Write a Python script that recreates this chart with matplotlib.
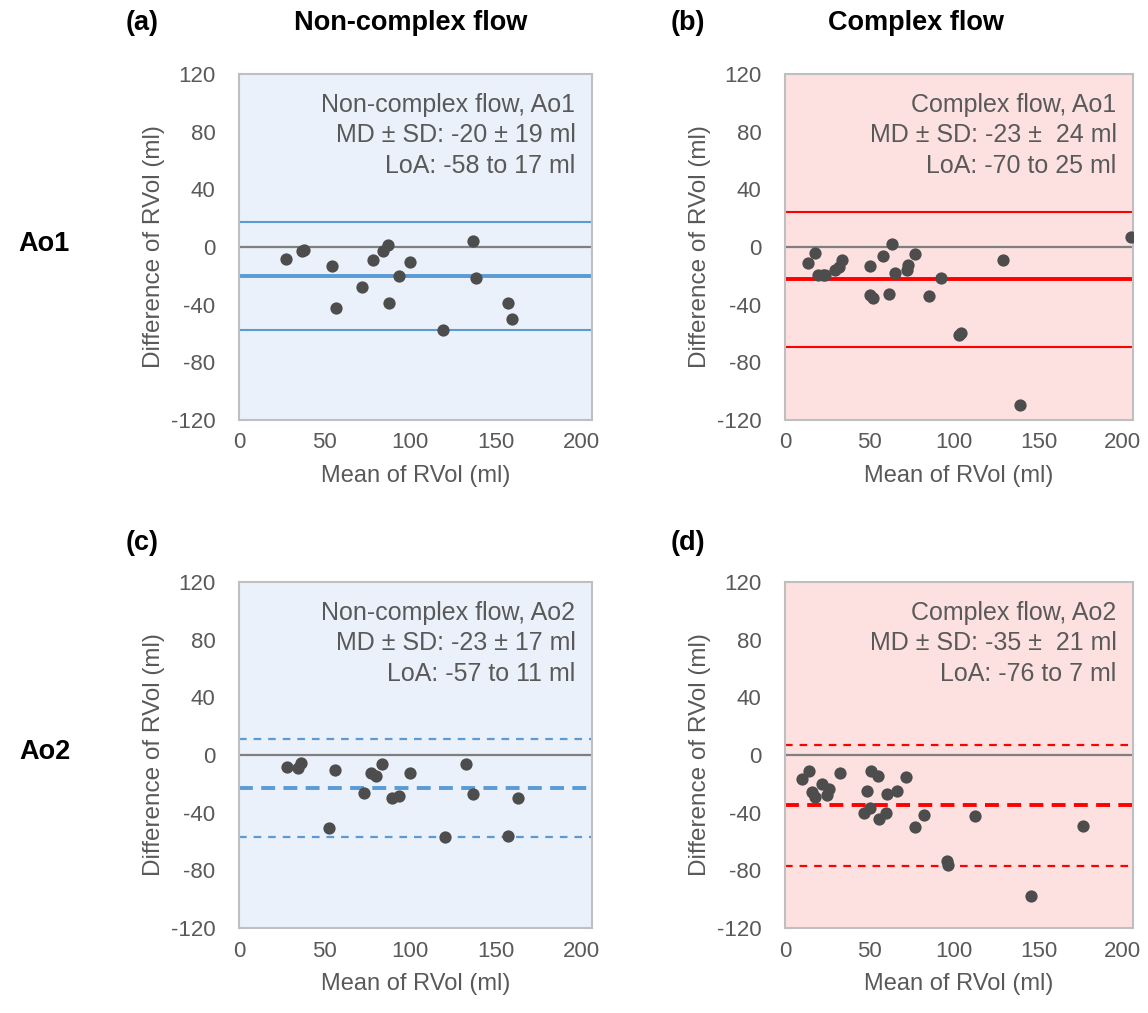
import matplotlib
matplotlib.use("Agg")
import matplotlib.pyplot as plt

plt.rcParams['font.family'] = ['Liberation Sans', 'DejaVu Sans']
plt.rcParams['lines.scale_dashes'] = False
plt.rcParams['axes.unicode_minus'] = False

# Panel (a): Non-complex flow, Ao1
a_x = [27.7, 37.0, 38.0, 54.5, 56.4, 71.7, 78.0, 84.0, 87.2, 87.4, 93.6, 100.0, 118.8, 136.6, 138.4, 157.0, 159.3]
a_y = [-8.3, -2.8, -2.0, -13.0, -42.6, -28.0, -9.0, -2.8, 1.4, -38.6, -20.0, -10.6, -57.6, 4.2, -21.8, -38.6, -50.2]
a_stats = [-20.3, 17.1, -57.6]  # mean, upper LoA, lower LoA

# Panel (b): Complex flow, Ao1
b_x = [13.6, 18.0, 19.4, 22.7, 23.7, 29.7, 31.7, 33.6, 50.4, 50.4, 51.8, 58.3, 61.7, 63.3, 65.3, 72.2, 73.1, 76.7,
       85.1, 92.6, 102.9, 104.4, 128.8, 139.4, 204.8]
b_y = [-10.9, -4.0, -19.2, -19.2, -19.7, -16.2, -13.9, -9.3, -13.2, -33.1, -35.2, -6.3, -32.9, 1.8, -17.9, -16.2,
       -12.3, -5.1, -34.3, -21.5, -60.9, -59.7, -9.0, -109.5, 6.7]
b_stats = [-22.5, 24.5, -69.4]

# Panel (c): Non-complex flow, Ao2
c_x = [28.2, 34.6, 36.2, 52.7, 56.2, 72.9, 76.8, 79.9, 83.2, 89.4, 93.5, 99.7, 120.1, 132.2, 136.8, 157.2, 162.7]
c_y = [-8.6, -9.3, -5.8, -50.9, -10.2, -26.4, -12.3, -14.6, -6.3, -29.6, -28.2, -12.7, -57.2, -6.3, -27.1, -56.3, -29.6]
c_stats = [-22.7, 11.3, -57.0]

# Panel (d): Complex flow, Ao2
d_x = [10.3, 14.4, 16.2, 17.8, 21.8, 24.7, 26.1, 32.7, 46.5, 48.4, 50.4, 51.0, 54.8, 55.8, 59.9, 60.3, 66.3, 71.4,
       77.2, 82.5, 95.9, 96.5, 112.4, 145.9, 176.6]
d_y = [-16.9, -10.9, -25.5, -28.9, -20.1, -27.8, -23.6, -12.3, -40.0, -25.0, -37.0, -10.9, -14.6, -44.4, -40.0,
       -27.3, -25.0, -15.0, -50.0, -41.4, -73.4, -76.4, -42.1, -97.7, -49.3]
d_stats = [-34.7, 6.9, -76.9]

texts = {
    'a': ["Non-complex flow, Ao1", "MD \u00b1 SD: -20 \u00b1 19 ml", "LoA: -58 to 17 ml"],
    'b': ["Complex flow, Ao1", "MD \u00b1 SD: -23 \u00b1  24 ml", "LoA: -70 to 25 ml"],
    'c': ["Non-complex flow, Ao2", "MD \u00b1 SD: -23 \u00b1 17 ml", "LoA: -57 to 11 ml"],
    'd': ["Complex flow, Ao2", "MD \u00b1 SD: -35 \u00b1  21 ml", "LoA: -76 to 7 ml"],
}

x_ticks = [0, 50, 100, 150, 200]
y_ticks = [-120, -80, -40, 0, 40, 80, 120]

W, H = 1148, 1013
fig = plt.figure(figsize=(W / 100, H / 100), dpi=100)

BLUE = '#5B9BD5'
RED = '#FF0000'
BG_BLUE = '#EAF1FA'
BG_PINK = '#FDE1E1'
TXT = '#595959'

panels = [
    ('a', a_x, a_y, a_stats, BLUE, BG_BLUE, False, (239, 74, 592, 420)),
    ('b', b_x, b_y, b_stats, RED, BG_PINK, False, (785, 74, 1133, 420)),
    ('c', c_x, c_y, c_stats, BLUE, BG_BLUE, True, (239, 582, 592, 928)),
    ('d', d_x, d_y, d_stats, RED, BG_PINK, True, (785, 582, 1133, 928)),
]

for key, xs, ys, stats, col, bg, dashed, (x0, y0, x1, y1) in panels:
    ax = fig.add_axes([x0 / W, 1 - y1 / H, (x1 - x0) / W, (y1 - y0) / H])
    ax.set_facecolor(bg)
    ax.set_xlim(0, 206)
    ax.set_ylim(-120, 120)
    ax.set_xticks(x_ticks)
    ax.set_yticks(y_ticks)
    ax.tick_params(length=0, labelsize=16, labelcolor=TXT)
    ax.tick_params(axis='y', pad=17)
    ax.tick_params(axis='x', pad=9)
    for s in ax.spines.values():
        s.set_color('#BFBFBF')
        s.set_linewidth(1.5)
    ax.axhline(0, color='#7F7F7F', lw=1.6, zorder=2)
    mean, up, lo = stats
    if dashed:
        ax.axhline(mean, color=col, lw=2.8, dashes=(10, 6), zorder=2)
        ax.axhline(up, color=col, lw=1.6, dashes=(5.5, 5), zorder=2)
        ax.axhline(lo, color=col, lw=1.6, dashes=(5.5, 5), zorder=2)
    else:
        ax.axhline(mean, color=col, lw=2.8, zorder=2)
        ax.axhline(up, color=col, lw=1.5, zorder=2)
        ax.axhline(lo, color=col, lw=1.5, zorder=2)
    ax.scatter(xs, ys, s=78, color='#4D4D4D', zorder=3, linewidths=0)
    ax.set_xlabel("Mean of RVol (ml)", fontsize=17, color=TXT, labelpad=8)
    ax.set_ylabel("Difference of RVol (ml)", fontsize=17.5, color=TXT, labelpad=4)
    ax.text(0.953, 0.945, "\n".join(texts[key]), transform=ax.transAxes, ha='right', va='top',
            fontsize=18, color=TXT, linespacing=1.33, zorder=4)

# Panel letters and titles
kw = dict(fontsize=19.5, fontweight='bold', ha='center', va='center')
fig.text(142 / W, 1 - 23 / H, "(a)", **kw)
fig.text(411 / W, 1 - 23 / H, "Non-complex flow", **kw)
fig.text(688 / W, 1 - 23 / H, "(b)", **kw)
fig.text(916 / W, 1 - 23 / H, "Complex flow", **kw)
fig.text(142 / W, 1 - 543 / H, "(c)", **kw)
fig.text(688 / W, 1 - 543 / H, "(d)", **kw)
fig.text(44 / W, 1 - 244 / H, "Ao1", **kw)
fig.text(45 / W, 1 - 752 / H, "Ao2", **kw)

fig.savefig("out.png", dpi=100, facecolor='white')
